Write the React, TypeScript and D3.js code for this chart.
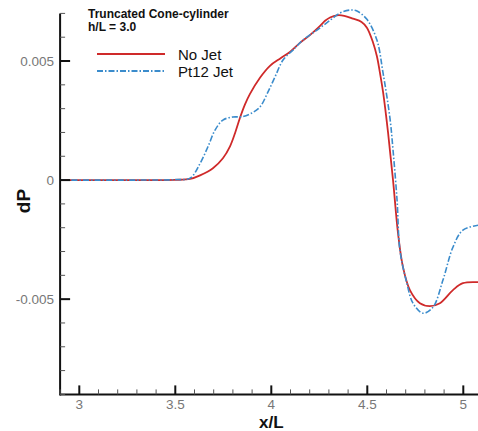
import React from "react";
import * as d3 from "d3";

const xNoJet = [2.9, 3.3, 3.5, 3.577, 3.629, 3.696, 3.748, 3.785, 3.811, 3.837, 3.863, 3.889, 3.941, 3.993, 4.045, 4.097, 4.149, 4.201, 4.254, 4.28, 4.306, 4.342, 4.38, 4.425, 4.47, 4.498, 4.529, 4.55, 4.566, 4.582, 4.608, 4.634, 4.66, 4.686, 4.722, 4.774, 4.826, 4.878, 4.946, 4.998, 5.08];
const yNoJet = [0, 0, 0.00001, 0.00005, 0.0002, 0.0005, 0.00092, 0.00142, 0.00197, 0.00262, 0.00318, 0.00362, 0.0043, 0.0048, 0.0051, 0.00538, 0.00576, 0.00609, 0.00648, 0.00669, 0.00683, 0.00692, 0.0069, 0.00678, 0.00664, 0.0064, 0.0058, 0.0052, 0.0045, 0.0037, 0.002, 0, -0.00223, -0.00366, -0.00462, -0.00517, -0.00529, -0.00517, -0.00462, -0.00433, -0.00429];

const xJet = [2.9, 3.3, 3.5, 3.577, 3.629, 3.67, 3.707, 3.748, 3.8, 3.847, 3.899, 3.941, 3.978, 4.019, 4.061, 4.113, 4.165, 4.238, 4.295, 4.359, 4.411, 4.446, 4.498, 4.55, 4.582, 4.618, 4.634, 4.655, 4.67, 4.706, 4.738, 4.79, 4.842, 4.894, 4.946, 4.998, 5.08];
const yJet = [0, 0, 0.00002, 0.00008, 0.0007, 0.0014, 0.0021, 0.00252, 0.00265, 0.00266, 0.00282, 0.00307, 0.00362, 0.00433, 0.00504, 0.00546, 0.00588, 0.0063, 0.00664, 0.00702, 0.00714, 0.0071, 0.00675, 0.00588, 0.0045, 0.0026, 0.00126, -0.00084, -0.00294, -0.00433, -0.00517, -0.00559, -0.00534, -0.0042, -0.00282, -0.0021, -0.00189];

const xMajorTicks = [3, 3.5, 4, 4.5, 5];
const xTickLabels = ["3", "3.5", "4", "4.5", "5"];
const yMajorTicks = [-0.005, 0, 0.005];
const yTickLabels = ["-0.005", "0", "0.005"];

const seriesNames = ["No Jet", "Pt12 Jet"];
const titleLines = ["Truncated Cone-cylinder", "h/L = 3.0"];

const W = 478;
const H = 431;

export default function App() {
  const x = d3.scaleLinear().domain([2.9, 5.1]).range([60.1, 482.5]);
  const y = d3.scaleLinear().domain([-0.009, 0.007]).range([394.4, 13.4]);
  const x0 = x(2.9);
  const yb = y(-0.009);
  const yt = y(0.007);

  const line = d3
    .line<[number, number]>()
    .x((d) => x(d[0]))
    .y((d) => y(d[1]))
    .curve(d3.curveCatmullRom.alpha(0.5));

  const red = line(xNoJet.map((v, i) => [v, yNoJet[i]] as [number, number])) || "";
  const blue = line(xJet.map((v, i) => [v, yJet[i]] as [number, number])) || "";

  const xMinor = d3.range(29, 51).map((v) => v / 10).filter((v) => !xMajorTicks.some((m) => Math.abs(m - v) < 1e-9));
  const yMinor = d3.range(-9, 8).map((v) => v / 1000).filter((v) => !yMajorTicks.some((m) => Math.abs(m - v) < 1e-9));

  const font = "'Liberation Sans', Arial, Helvetica, sans-serif";
  const red_c = "#cf2a2a";
  const blue_c = "#3b8ccc";

  return (
    <svg width={W} height={H} style={{ position: "fixed", left: 0, top: 0, background: "#fff" }} fontFamily={font}>
      <rect x={0} y={0} width={W} height={H} fill="#fff" />
      <defs>
        <clipPath id="plot">
          <rect x={x0} y={0} width={W - x0} height={yb} />
        </clipPath>
      </defs>
      <g clipPath="url(#plot)">
        <path d={red} fill="none" stroke={red_c} strokeWidth={1.8} />
        <path d={blue} fill="none" stroke={blue_c} strokeWidth={1.6} strokeDasharray="6 2 1.5 2" />
      </g>
      <line x1={x0} x2={W} y1={yb} y2={yb} stroke="#111" strokeWidth={2} />
      <line x1={x0} x2={x0} y1={yt} y2={yb + 1} stroke="#111" strokeWidth={2} />
      {xMajorTicks.map((t, i) => (
        <g key={"xt" + i}>
          <line x1={x(t)} x2={x(t)} y1={yb} y2={yb - 9} stroke="#111" strokeWidth={2} />
          <text x={x(t)} y={yb + 15} textAnchor="middle" fontSize={13.5} fill="#777">
            {xTickLabels[i]}
          </text>
        </g>
      ))}
      {xMinor.map((t, i) => (
        <line key={"xm" + i} x1={x(t)} x2={x(t)} y1={yb} y2={yb - 5} stroke="#555" strokeWidth={1} />
      ))}
      {yMajorTicks.map((t, i) => (
        <g key={"yt" + i}>
          <line x1={x0} x2={x0 + 10} y1={y(t)} y2={y(t)} stroke="#111" strokeWidth={2} />
          <text x={x0 - 6} y={y(t) + 5} textAnchor="end" fontSize={13.5} fill="#777">
            {yTickLabels[i]}
          </text>
        </g>
      ))}
      {yMinor.map((t, i) => (
        <line key={"ym" + i} x1={x0} x2={x0 + 5} y1={y(t)} y2={y(t)} stroke="#555" strokeWidth={1} />
      ))}
      <text x={x(4)} y={427.5} textAnchor="middle" fontSize={17} fontWeight="bold" fill="#111">
        x/L
      </text>
      <text transform={`translate(30, 201) rotate(-90)`} textAnchor="middle" fontSize={19} fontWeight="bold" fill="#111">
        dP
      </text>
      <text x={88} y={18} fontSize={12} fill="#111" fontWeight="bold">{titleLines[0]}</text>
      <text x={88} y={31} fontSize={12} fill="#111" fontWeight="bold">{titleLines[1]}</text>
      <line x1={97} x2={165} y1={54} y2={54} stroke={red_c} strokeWidth={2} />
      <text x={178} y={60} fontSize={15} fill="#111">{seriesNames[0]}</text>
      <line x1={97} x2={165} y1={71} y2={71} stroke={blue_c} strokeWidth={2} strokeDasharray="6 2 1.5 2" />
      <text x={178} y={77} fontSize={15} fill="#111">{seriesNames[1]}</text>
    </svg>
  );
}
